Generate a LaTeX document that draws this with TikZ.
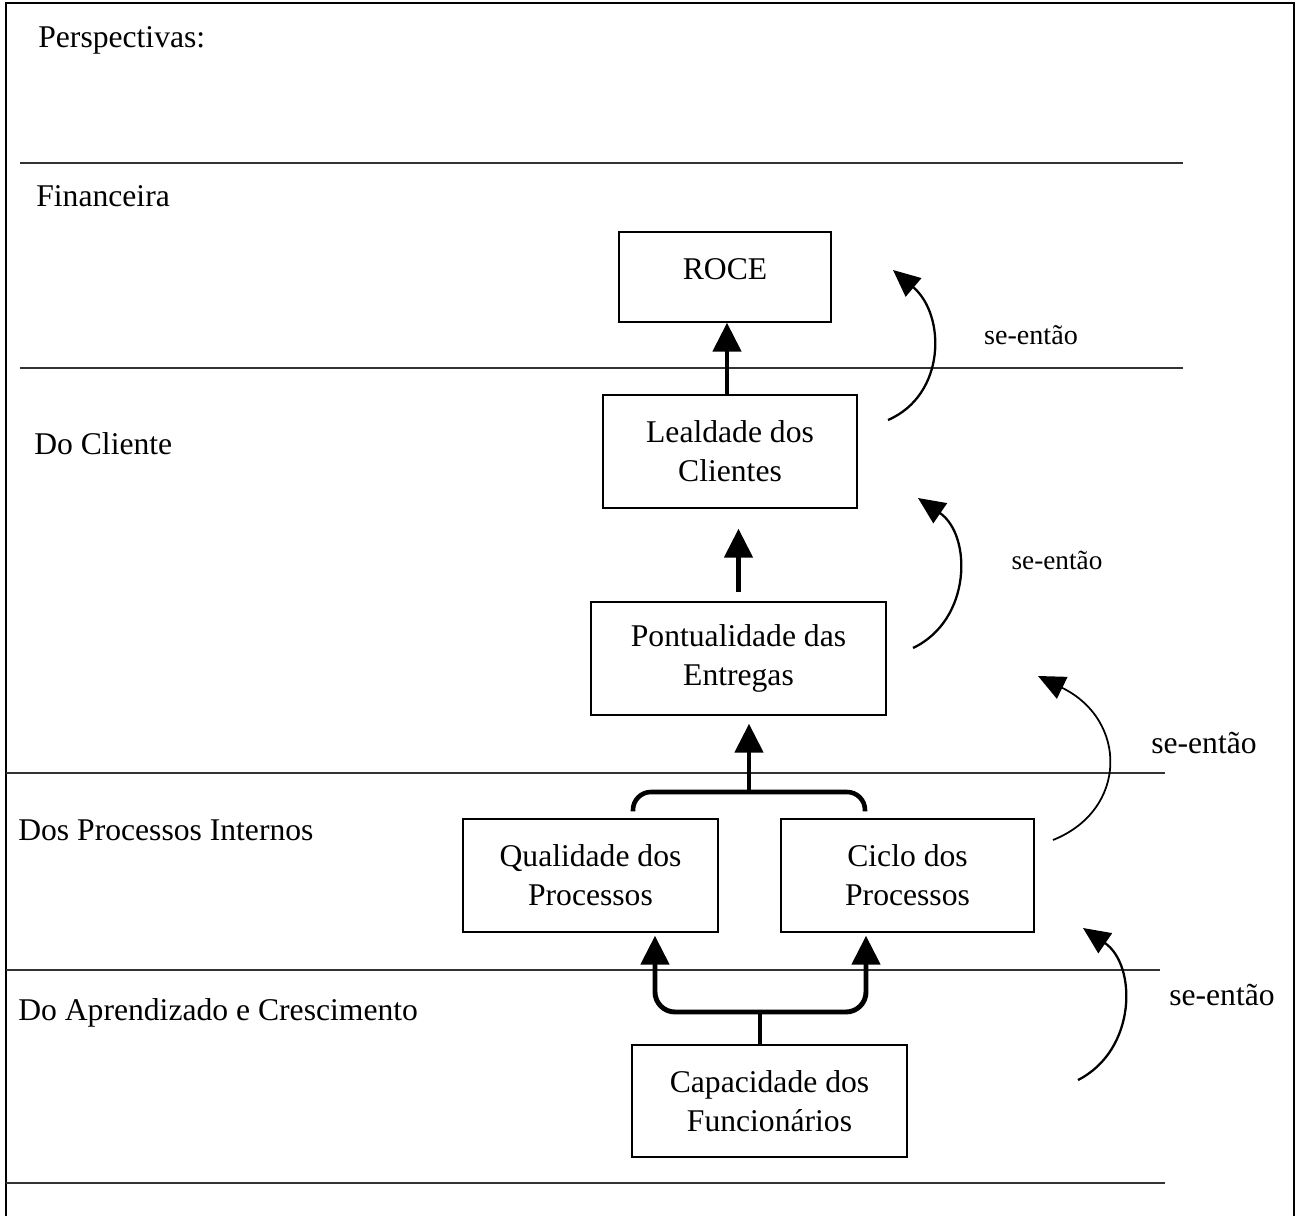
\documentclass[tikz,border=0pt]{standalone}
\usepackage{fontspec}
\setmainfont{Liberation Serif}
\usetikzlibrary{positioning, arrows.meta}

\begin{document}
\begin{tikzpicture}[
    x=0.02cm, y=-0.02cm,
    box/.style={
      draw, line width=0.8pt, align=center, inner sep=0pt,
      minimum height=2.26cm, font=\fontsize{18}{22}\selectfont
    },
    persp/.style={anchor=base west, inner sep=0pt, font=\fontsize{18}{22}\selectfont},
    sen/.style={inner sep=0pt, font=\fontsize{17}{20}\selectfont},
    divline/.style={line width=0.8pt, black!80},
    arr/.style={-{Triangle[width=0.56cm, length=0.58cm]}, line width=2.8pt},
    bar/.style={line width=2.6pt, rounded corners=0.36cm},
    ifarr/.style={-{Triangle[width=0.48cm, length=0.54cm]}, line width=1.3pt},
  ]
    \useasboundingbox (0,0) rectangle (1296,1216);
    % moldura
    \draw[line width=1.4pt] (6,1216) -- (6,3) -- (1294,3) -- (1294,1216);
    \foreach \yy/\xa/\xb in {163/20/1183, 368/20/1183, 773/6/1165, 970/6/1160, 1183/6/1165}
      \draw[divline] (\xa,\yy) -- (\xb,\yy);

    % perspectivas
    \node[persp] (tit) at (38,48) {Perspectivas:};
    \node[persp] (fin) at (36,207) {Financeira};
    \node[persp] (cli) at (34,455) {Do Cliente};
    \node[persp] (pin) at (18,840) {Dos Processos Internos};
    \node[persp] (apr) at (18,1020) {Do Aprendizado e Crescimento};

    % objetivos
    \node[box, minimum width=4.24cm, minimum height=1.8cm] (roce) at (725,277) {\raisebox{9pt}{ROCE}};
    \node[box, minimum width=5.08cm] (leal) at (730,451.5) {Lealdade dos\\Clientes};
    \node[box, minimum width=5.9cm] (pont) at (738.5,658.5) {Pontualidade das\\Entregas};
    \node[box, minimum width=5.1cm] (qual) at (590.5,875.5) {Qualidade dos\\Processos};
    \node[box, minimum width=5.06cm] (ciclo) at (907.5,875.5) {Ciclo dos\\Processos};
    \node[box, minimum width=5.5cm, minimum height=2.24cm] (cap) at (769.5,1101) {Capacidade dos\\Funcionários};

    \coordinate (upj) at (749,792);
    \coordinate (lowj) at (760,1012);

    \draw[arr] ([xshift=0.04cm]roce.south |- leal.north) -- ([xshift=0.04cm]roce.south);
    \draw[arr, shorten <=0.18cm, shorten >=0.4cm] (pont.north) -- (pont.north |- leal.south);
    \draw[bar] ([xshift=0.85cm, yshift=0.14cm]qual.north) |- (upj)
      -| ([xshift=-0.85cm, yshift=0.14cm]ciclo.north);
    \draw[arr, shorten >=0.16cm] (upj) -- (upj |- pont.south);
    \draw[line width=2.8pt] (cap.north -| lowj) -- (lowj);
    \draw[arr, rounded corners=0.4cm] (lowj) -| ([xshift=1.29cm, yshift=-0.06cm]qual.south);
    \draw[arr, rounded corners=0.4cm] (lowj) -| ([xshift=-0.83cm, yshift=-0.06cm]ciclo.south);

    % se-entao
    \coordinate (a1) at (888,420);
    \coordinate (b1) at (893,270);
    \coordinate (a2) at (913,648);
    \coordinate (b2) at (918,498);
    \coordinate (a3) at (1053,840);
    \coordinate (b3) at (1038,676);
    \coordinate (a4) at (1078,1080);
    \coordinate (b4) at (1083,928);
    \draw[ifarr] (a1) .. controls (946,395) and (946,315) .. (b1);
    \draw[ifarr] (a2) .. controls (972,620) and (972,535) .. (b2);
    \draw[ifarr, line width=1pt] (a3) .. controls (1128,810) and (1128,720) .. (b3);
    \draw[ifarr] (a4) .. controls (1137,1050) and (1137,965) .. (b4);

    \node[sen, font=\fontsize{16}{20}\selectfont] (se1) at (1031,335) {se-então};
    \node[sen, font=\fontsize{15.5}{20}\selectfont] (se2) at (1057,560) {se-então};
    \node[sen, font=\fontsize{18}{20}\selectfont] (se3) at (1204,743) {se-então};
    \node[sen, font=\fontsize{18}{20}\selectfont] (se4) at (1222,995) {se-então};
  \end{tikzpicture}
\end{document}
